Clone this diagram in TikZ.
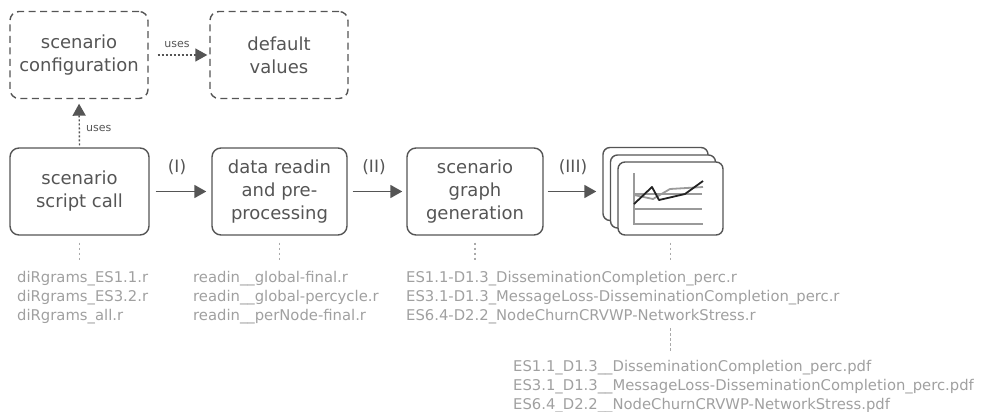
\documentclass[tikz,border=0pt]{standalone}
\usepackage{fontspec}
\setmainfont{DejaVu Sans}
\usetikzlibrary{arrows.meta}
\definecolor{boxgray}{HTML}{555555}
\definecolor{filegray}{HTML}{A0A0A0}
\definecolor{dotgray}{HTML}{AAAAAA}
\definecolor{chartgray}{HTML}{9A9A9A}
\definecolor{chartdark}{HTML}{222222}
\begin{document}
\begin{tikzpicture}[x=1pt,y=-1pt,
  procbox/.style={draw=boxgray, line width=1.4pt, rounded corners=9pt, minimum height=87pt, inner sep=0pt, align=center, text=boxgray, font=\fontsize{18}{23}\selectfont},
  dashbox/.style={procbox, dash pattern=on 7pt off 4.5pt},
  card/.style={draw=boxgray, line width=1.4pt, rounded corners=7pt, fill=white, minimum width=105pt, minimum height=73pt, inner sep=0pt},
  flowarrow/.style={draw=boxgray, line width=1.8pt, -{Triangle[length=12pt,width=13pt]}},
  usesarrow/.style={draw=boxgray, line width=1.4pt, dash pattern=on 2pt off 2pt, -{Triangle[length=12pt,width=13pt]}},
  fileline/.style={draw=dotgray, line width=1.2pt, dash pattern=on 2.5pt off 2.5pt},
  filetext/.style={text=filegray, font=\fontsize{14.8}{19}\selectfont, inner sep=0pt, anchor=base west},
  steplabel/.style={text=boxgray, font=\fontsize{17}{20}\selectfont, inner sep=0pt},
  useslabel/.style={text=boxgray, font=\fontsize{11}{13}\selectfont, inner sep=0pt},
  chartaxis/.style={draw=chartgray, line width=1.8pt},
  chartline/.style={draw=chartdark, line width=1.8pt, line join=round},
]
\useasboundingbox (0,0) rectangle (986,412);

% top dashed boxes
\node[dashbox, minimum width=138pt] (conf) at (79,55) {scenario\\configuration};
\node[dashbox, minimum width=138pt] (defv) at (279,55) {default\\values};

% process boxes
\node[procbox, minimum width=139pt] (b1) at (79.5,191.5) {scenario\\script call};
\node[procbox, minimum width=135pt] (b2) at (279.5,191.5) {data readin\\and pre-\\processing};
\node[procbox, minimum width=136pt] (b3) at (475,191.5) {scenario\\graph\\generation};

% stacked result cards
\node[card] (cback) at (655.5,184) {};
\node[card] (cmid) at (663,191.5) {};
\node[card] (cfront) at (670.5,198.5) {};
\draw[chartaxis] (634,173) -- (634,224) -- (703,224);
\draw[chartaxis] (634,209) -- (702,209);
\draw[chartaxis] (634,194) -- (702,194);
\draw[chartaxis, line join=round] (634,195) -- (653,199) -- (670,189) -- (703,187);
\draw[chartline] (634,204) -- (652,187) -- (659,200) -- (685,194) -- (703,181);

% flow arrows
\draw[flowarrow, shorten <=6pt, shorten >=5pt] (b1.east) -- (b2.west);
\draw[flowarrow, shorten <=5pt, shorten >=4pt] (b2.east) -- (b3.west);
\draw[flowarrow, shorten <=4pt, shorten >=6pt] (b3.east) -- (b3.east -| cback.west);
\node[steplabel] (l1) at (177,167) {(I)};
\node[steplabel] (l2) at (374,167) {(II)};
\node[steplabel] (l3) at (573,167) {(III)};

% uses arrows
\draw[usesarrow, shorten <=2pt, shorten >=4.5pt] (b1.north) -- (conf.south);
\draw[usesarrow, shorten <=9pt, shorten >=2pt] (conf.east) -- (defv.west);
\node[useslabel, anchor=west] (u1) at (86,128) {uses};
\node[useslabel] (u2) at (177,44) {uses};

% file lists
\node[filetext] (f1a) at (17,282) {diRgrams\_ES1.1.r};
\node[filetext] (f1b) at (17,301) {diRgrams\_ES3.2.r};
\node[filetext] (f1c) at (17,320) {diRgrams\_all.r};

\node[filetext] (f2a) at (193,282) {readin\_\_global-final.r};
\node[filetext] (f2b) at (193,301) {readin\_\_global-percycle.r};
\node[filetext] (f2c) at (193,320) {readin\_\_perNode-final.r};

\node[filetext] (f3a) at (406,282) {ES1.1-D1.3\_DisseminationCompletion\_perc.r};
\node[filetext] (f3b) at (406,301) {ES3.1-D1.3\_MessageLoss-DisseminationCompletion\_perc.r};
\node[filetext] (f3c) at (406,320) {ES6.4-D2.2\_NodeChurnCRVWP-NetworkStress.r};

\node[filetext] (p1) at (513,371) {ES1.1\_D1.3\_\_DisseminationCompletion\_perc.pdf};
\node[filetext] (p2) at (513,390) {ES3.1\_D1.3\_\_MessageLoss-DisseminationCompletion\_perc.pdf};
\node[filetext] (p3) at (513,409) {ES6.4\_D2.2\_\_NodeChurnCRVWP-NetworkStress.pdf};

% dotted connectors
\draw[fileline, shorten <=7pt, shorten >=8pt] (b1.south) -- (b1.south |- f1a.north);
\draw[fileline, shorten <=7pt, shorten >=8pt] (b2.south) -- (b2.south |- f2a.north);
\draw[fileline, shorten <=7pt, shorten >=8pt] (b3.south) -- (b3.south |- f3a.north);
\draw[fileline, shorten <=7pt, shorten >=8pt] (cfront.south) -- (cfront.south |- f3a.north);
\draw[fileline, shorten <=4.5pt, shorten >=8pt] (cfront.south |- f3c.south) -- (cfront.south |- p1.north);
\end{tikzpicture}
\end{document}
